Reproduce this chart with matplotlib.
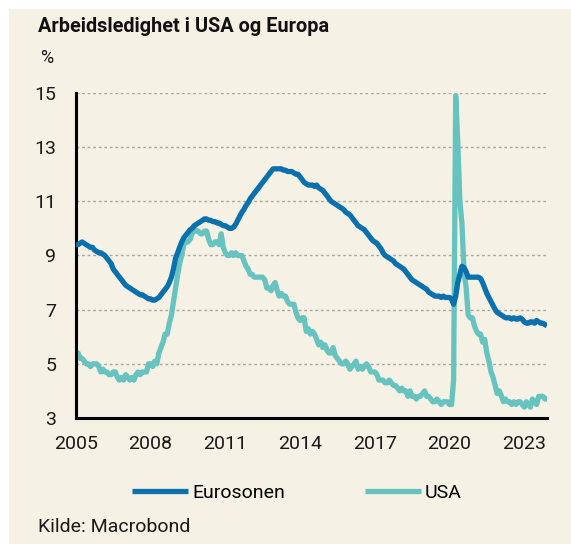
#
# Arbeidsledighet i USA og Europa - monthly unemployment rate

import numpy as np
import pandas as pd
import matplotlib
matplotlib.use('Agg')
import matplotlib.pyplot as plt
import matplotlib.dates as mdates
from matplotlib.patches import Rectangle

plt.rcParams['font.family'] = ['Roboto', 'DejaVu Sans']

# data, monthly Jan 2005 - Dec 2023 (%)
euro = [
    9.4, 9.4, 9.45, 9.5, 9.45, 9.4, 9.35, 9.3, 9.3, 9.2, 9.15, 9.1,          # 2005
    9.1, 9.05, 9.0, 8.9, 8.8, 8.7, 8.5, 8.4, 8.3, 8.2, 8.1, 8.0,            # 2006
    7.9, 7.85, 7.8, 7.75, 7.7, 7.65, 7.6, 7.55, 7.55, 7.5, 7.45, 7.4,       # 2007
    7.4, 7.35, 7.35, 7.4, 7.45, 7.55, 7.65, 7.75, 7.85, 8.0, 8.2, 8.5,      # 2008
    8.9, 9.1, 9.3, 9.5, 9.65, 9.75, 9.85, 9.95, 10.0, 10.1, 10.15, 10.2,    # 2009
    10.25, 10.3, 10.35, 10.35, 10.3, 10.3, 10.25, 10.25, 10.2, 10.2, 10.15, 10.1,
    10.1, 10.05, 10.0, 10.0, 10.05, 10.15, 10.3, 10.45, 10.6, 10.7, 10.85, 10.95,
    11.1, 11.2, 11.3, 11.4, 11.5, 11.6, 11.7, 11.8, 11.9, 12.0, 12.1, 12.2,
    12.2, 12.2, 12.2, 12.2, 12.15, 12.15, 12.1, 12.1, 12.1, 12.05, 12.0, 12.0,
    11.9, 11.8, 11.7, 11.65, 11.6, 11.6, 11.6, 11.55, 11.6, 11.5, 11.45, 11.4,
    11.3, 11.2, 11.1, 11.0, 10.95, 10.9, 10.85, 10.8, 10.75, 10.7, 10.6, 10.55,
    10.5, 10.4, 10.3, 10.2, 10.1, 10.05, 10.0, 9.95, 9.85, 9.75, 9.65, 9.55,
    9.5, 9.45, 9.35, 9.25, 9.1, 9.0, 8.95, 8.9, 8.85, 8.8, 8.7, 8.65,
    8.6, 8.55, 8.5, 8.4, 8.3, 8.2, 8.1, 8.05, 8.0, 7.95, 7.9, 7.85,
    7.8, 7.75, 7.65, 7.6, 7.55, 7.5, 7.5, 7.5, 7.45, 7.5, 7.45, 7.45,
    7.45, 7.4, 7.2, 7.5, 8.0, 8.3, 8.6, 8.55, 8.4, 8.2, 8.2, 8.2,           # 2020
    8.2, 8.2, 8.2, 8.15, 8.0, 7.8, 7.6, 7.45, 7.3, 7.15, 7.0, 6.9,
    6.85, 6.8, 6.75, 6.7, 6.7, 6.7, 6.65, 6.7, 6.65, 6.65, 6.7, 6.65,
    6.55, 6.5, 6.5, 6.55, 6.55, 6.5, 6.6, 6.55, 6.5, 6.5, 6.45, 6.4,        # 2023
]

usa = [
    5.3, 5.4, 5.2, 5.2, 5.1, 5.0, 5.0, 4.9, 5.0, 5.0, 5.0, 4.9,             # 2005
    4.7, 4.8, 4.7, 4.7, 4.6, 4.6, 4.7, 4.7, 4.5, 4.4, 4.5, 4.4,
    4.6, 4.5, 4.4, 4.5, 4.4, 4.6, 4.7, 4.6, 4.7, 4.7, 4.7, 5.0,
    5.0, 4.9, 5.1, 5.0, 5.4, 5.6, 5.8, 6.1, 6.1, 6.5, 6.8, 7.3,
    7.8, 8.3, 8.7, 9.0, 9.4, 9.5, 9.5, 9.6, 9.8, 10.0, 9.9, 9.9,
    9.8, 9.8, 9.9, 9.9, 9.6, 9.4, 9.4, 9.5, 9.5, 9.4, 9.8, 9.3,
    9.1, 9.0, 9.0, 9.1, 9.0, 9.1, 9.0, 9.0, 9.0, 8.8, 8.6, 8.5,
    8.3, 8.3, 8.2, 8.2, 8.2, 8.2, 8.2, 8.1, 7.8, 7.8, 7.7, 7.9,
    8.0, 7.7, 7.5, 7.6, 7.5, 7.5, 7.3, 7.2, 7.2, 7.2, 6.9, 6.7,
    6.6, 6.7, 6.7, 6.2, 6.3, 6.1, 6.2, 6.1, 5.9, 5.7, 5.8, 5.6,
    5.7, 5.5, 5.4, 5.4, 5.6, 5.3, 5.2, 5.1, 5.0, 5.0, 5.1, 5.0,
    4.8, 4.9, 5.0, 5.1, 4.8, 4.9, 4.8, 4.9, 5.0, 4.9, 4.7, 4.7,
    4.7, 4.6, 4.4, 4.4, 4.4, 4.3, 4.3, 4.4, 4.3, 4.2, 4.2, 4.1,
    4.0, 4.1, 4.0, 4.0, 3.8, 4.0, 3.8, 3.8, 3.7, 3.8, 3.8, 3.9,
    4.0, 3.8, 3.8, 3.7, 3.6, 3.6, 3.7, 3.6, 3.5, 3.6, 3.6, 3.6,
    3.5, 3.5, 4.4, 14.9, 13.2, 11.0, 10.2, 8.4, 7.8, 6.8, 6.7, 6.7,         # 2020
    6.4, 6.2, 6.1, 6.1, 5.8, 5.9, 5.4, 5.1, 4.7, 4.5, 4.2, 3.9,
    4.0, 3.8, 3.6, 3.7, 3.6, 3.6, 3.5, 3.6, 3.5, 3.6, 3.6, 3.5,
    3.4, 3.6, 3.5, 3.4, 3.7, 3.6, 3.5, 3.8, 3.8, 3.8, 3.7, 3.7,             # 2023
]

dates = pd.date_range('2005-01-01', periods=len(euro), freq='MS')
y_ticks = [3, 5, 7, 9, 11, 13, 15]
x_years = [2005, 2008, 2011, 2014, 2017, 2020, 2023]

bg = '#f5f1e4'
euro_col = '#0a70ae'
usa_col = '#66c3c0'

fig = plt.figure(figsize=(5.71, 5.44), dpi=100, facecolor='white')
# cream panel with a thin white margin at top/left
fig.add_artist(Rectangle((9 / 571, 0), 1, 1 - 9 / 544,
                         transform=fig.transFigure, facecolor=bg,
                         edgecolor='none', zorder=-10))

ax = fig.add_axes([0.133, 0.2316, 0.825, 0.5975])
ax.set_facecolor(bg)

ax.plot(dates, euro, color=euro_col, lw=3.8, solid_capstyle='butt', zorder=3,
        label='Eurosonen')
ax.plot(dates, usa, color=usa_col, lw=3.8, solid_capstyle='butt', zorder=2,
        label='USA')

ax.set_ylim(3, 15)
ax.set_yticks(y_ticks)
ax.set_xlim(dates[0], dates[-1])
ax.set_xticks([pd.Timestamp(f'{y}-01-01') for y in x_years])
ax.xaxis.set_major_formatter(mdates.DateFormatter('%Y'))

for v in y_ticks[1:]:
    ax.axhline(v, color='#a8a69e', lw=1.0, ls=(0, (2, 2)), zorder=1)

for s in ['top', 'right']:
    ax.spines[s].set_visible(False)
ax.spines['left'].set_linewidth(2.2)
ax.spines['bottom'].set_linewidth(2.2)
ax.tick_params(length=0, labelsize=14, colors='#1a1a1a')
ax.tick_params(axis='x', pad=12)
ax.tick_params(axis='y', pad=14)

fig.text(38 / 571, 1 - 27 / 544, 'Arbeidsledighet i USA og Europa',
         fontsize=14.3, fontweight='bold', va='center', ha='left', color='#111')
fig.text(47 / 571, 1 - 58 / 544, '%', fontsize=13, va='center', ha='center',
         color='#1a1a1a')
fig.text(38 / 571, 1 - 527 / 544, 'Kilde: Macrobond', fontsize=14,
         va='center', ha='left', color='#1a1a1a')

fig.legend(loc='center', bbox_to_anchor=(0.52, 1 - 493 / 544), ncol=2,
           frameon=False, fontsize=14, handlelength=2.9, handletextpad=0.2,
           columnspacing=4.1)

plt.savefig('out.png', dpi=100, facecolor='white')
